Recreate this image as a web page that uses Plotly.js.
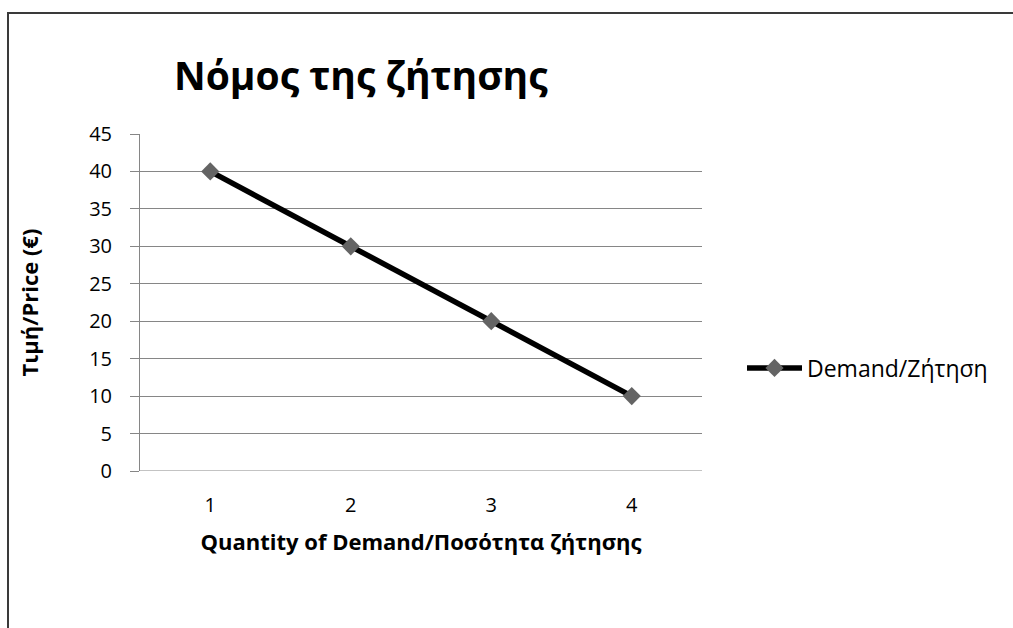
<!DOCTYPE html>
<html>
<head>
<meta charset="utf-8">
<script src="https://cdn.plot.ly/plotly-3.0.1.min.js"></script>
<style>
html,body{margin:0;padding:0;background:#fff;}
#wrap{position:relative;width:1013px;height:628px;overflow:hidden;}
#chart{position:absolute;left:0;top:0;width:1013px;height:628px;}
#frame{position:absolute;left:7px;top:12px;width:1030px;height:640px;border:2px solid #3a3a3a;box-sizing:border-box;pointer-events:none;}
</style>
</head>
<body>
<div id="wrap"><div id="chart"></div><div id="frame"></div></div>
<script>
var quantities = ["1", "2", "3", "4"];
var prices = [40, 30, 20, 10];
var seriesName = "Demand/Ζήτηση";
var chartTitle = "Νόμος της ζήτησης";
var xTitle = "Quantity of Demand/Ποσότητα ζήτησης";
var yTitle = "Τιμή/Price (€)";
var yTickVals = [0, 5, 10, 15, 20, 25, 30, 35, 40, 45];

var FONT = "Open Sans, Noto Sans, DejaVu Sans, sans-serif";

var trace = {
  type: "scatter",
  mode: "lines+markers",
  x: quantities,
  y: prices,
  name: seriesName,
  line: {color: "#000000", width: 5.5},
  marker: {symbol: "diamond", size: 14, color: "#646464", line: {width: 0}}
};

var layout = {
  width: 1013,
  height: 628,
  paper_bgcolor: "rgba(0,0,0,0)",
  plot_bgcolor: "#ffffff",
  margin: {l: 140, r: 311, t: 134, b: 157},
  font: {family: FONT, color: "#000000"},
  title: {
    text: "<b>" + chartTitle + "</b>",
    font: {family: FONT, size: 39, color: "#000000"},
    xref: "container", yref: "container",
    x: 174 / 1013, xanchor: "left",
    y: 1 - 76 / 628, yanchor: "middle"
  },
  xaxis: {
    type: "category",
    range: [-0.5, 3.5],
    showgrid: false,
    zeroline: false,
    showline: false,
    ticks: "",
    ticklabelstandoff: 20,
    tickfont: {family: FONT, size: 20, color: "#000000"},
    title: {
      text: "<b>" + xTitle + "</b>",
      font: {family: FONT, size: 22, color: "#000000"},
      standoff: 17
    },
    fixedrange: true
  },
  yaxis: {
    range: [0, 45],
    tickvals: yTickVals,
    showgrid: true,
    gridcolor: "#868686",
    gridwidth: 1,
    zeroline: false,
    showline: true,
    linecolor: "#868686",
    linewidth: 1,
    ticks: "outside",
    ticklen: 9,
    tickcolor: "#868686",
    ticklabelstandoff: 14,
    tickfont: {family: FONT, size: 20, color: "#000000"},
    title: {
      text: "<b>" + yTitle + "</b>",
      font: {family: FONT, size: 22, color: "#000000"},
      standoff: 44
    },
    fixedrange: true
  },
  showlegend: true,
  legend: {
    x: 742 / 1013, xref: "container", xanchor: "left",
    y: 1 - 368 / 628, yref: "container", yanchor: "middle",
    itemwidth: 55,
    font: {family: FONT, size: 23, color: "#000000"},
    bgcolor: "rgba(0,0,0,0)"
  },
  shapes: [
    {type: "line", xref: "paper", yref: "y", x0: 0, x1: 1, y0: 0, y1: 0,
     line: {color: "#868686", width: 1}, layer: "below"}
  ]
};

Plotly.newPlot("chart", [trace], layout, {displayModeBar: false, staticPlot: true});
</script>
</body>
</html>
